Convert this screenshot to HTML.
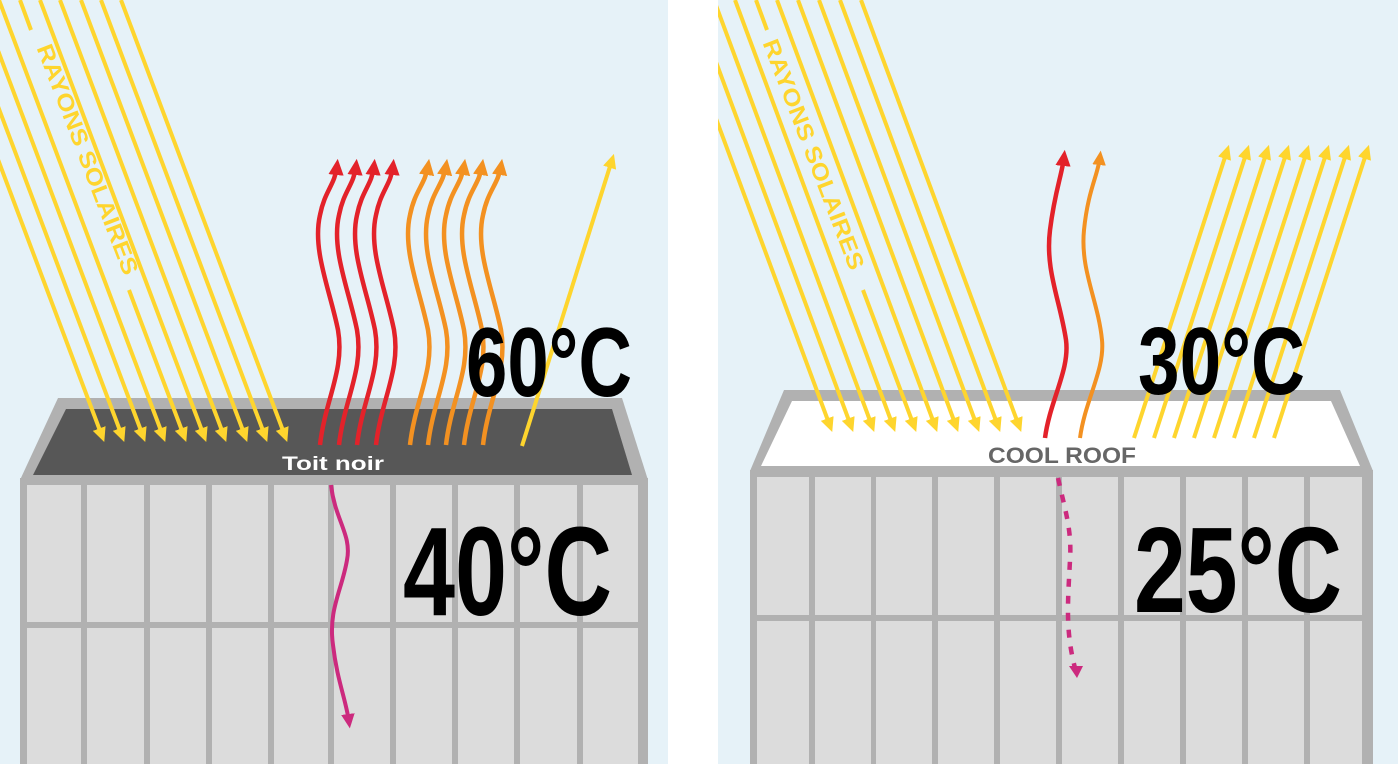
<!DOCTYPE html>
<html><head><meta charset="utf-8"><style>
html,body{margin:0;padding:0;background:#fff;}
svg{display:block;}
text{font-family:"Liberation Sans Narrow","Liberation Sans",sans-serif;font-weight:bold;}
</style></head><body>
<svg width="1398" height="764" viewBox="0 0 1398 764" xmlns="http://www.w3.org/2000/svg">
<defs>
<marker id="ay" markerWidth="4" markerHeight="4" refX="2" refY="2" orient="auto" markerUnits="strokeWidth"><path d="M0,0.3 L3.6,2 L0,3.7 Z" fill="#fed52e"/></marker>
<marker id="ar" markerWidth="4" markerHeight="4" refX="2" refY="2" orient="auto" markerUnits="strokeWidth"><path d="M0,0.3 L3.6,2 L0,3.7 Z" fill="#e3222a"/></marker>
<marker id="ao" markerWidth="4" markerHeight="4" refX="2" refY="2" orient="auto" markerUnits="strokeWidth"><path d="M0,0.3 L3.6,2 L0,3.7 Z" fill="#f39121"/></marker>
<marker id="ap" markerWidth="4" markerHeight="4" refX="2" refY="2" orient="auto" markerUnits="strokeWidth"><path d="M0,0.3 L3.6,2 L0,3.7 Z" fill="#cc2a7e"/></marker>
<clipPath id="cl"><rect x="0" y="0" width="668" height="764"/></clipPath>
<clipPath id="cr"><rect x="718" y="0" width="680" height="764"/></clipPath>
</defs>
<rect x="0" y="0" width="668" height="764" fill="#e6f2f8"/>
<rect x="718" y="0" width="680" height="764" fill="#e6f2f8"/>

<!-- LEFT BUILDING -->
<rect x="20" y="478" width="628" height="290" fill="#b1b1b1"/>
<g fill="#dcdcdc">
<rect x="27" y="485" width="54" height="137"/><rect x="87" y="485" width="57" height="137"/><rect x="150" y="485" width="56" height="137"/><rect x="212" y="485" width="56" height="137"/><rect x="274" y="485" width="54" height="137"/><rect x="334" y="485" width="56" height="137"/><rect x="396" y="485" width="56" height="137"/><rect x="458" y="485" width="56" height="137"/><rect x="520" y="485" width="57" height="137"/><rect x="583" y="485" width="55" height="137"/>
<rect x="27" y="628" width="54" height="140"/><rect x="87" y="628" width="57" height="140"/><rect x="150" y="628" width="56" height="140"/><rect x="212" y="628" width="56" height="140"/><rect x="274" y="628" width="54" height="140"/><rect x="334" y="628" width="56" height="140"/><rect x="396" y="628" width="56" height="140"/><rect x="458" y="628" width="56" height="140"/><rect x="520" y="628" width="57" height="140"/><rect x="583" y="628" width="55" height="140"/>
</g>
<polygon points="58,398 622,398 648,480 20,480" fill="#b1b1b1"/>
<polygon points="66,409 612,409 632,475 33,475" fill="#575757"/>

<g clip-path="url(#cl)">
<g stroke="#fed52e" stroke-width="4" fill="none" marker-end="url(#ay)">
<line x1="-62" y1="0" x2="102" y2="436"/>
<line x1="-42" y1="0" x2="122" y2="436"/>
<line x1="-21" y1="0" x2="143" y2="436"/>
<line x1="-1" y1="0" x2="163" y2="436"/>
<path d="M20,0 L31,30 M129,290 L184,436"/>
<line x1="40" y1="0" x2="204" y2="436"/>
<line x1="60" y1="0" x2="224" y2="436"/>
<line x1="81" y1="0" x2="245" y2="436"/>
<line x1="101" y1="0" x2="265" y2="436"/>
<line x1="121" y1="0" x2="285" y2="436"/>
</g>
</g>
<text transform="translate(86,160) rotate(69)" font-size="23" fill="#fed52e" text-anchor="middle" dominant-baseline="middle" textLength="245" lengthAdjust="spacingAndGlyphs">RAYONS SOLAIRES</text>

<g stroke="#e3222a" stroke-width="4.5" fill="none" marker-end="url(#ar)">
<path d="M320,445 C325,400 345,370 338,330 C330,290 312,250 320,215 C325,190 335,185 337,166"/>
<path d="M339,445 C344,400 364,370 357,330 C349,290 331,250 339,215 C344,190 354,185 356,166"/>
<path d="M357,445 C362,400 382,370 375,330 C367,290 349,250 357,215 C362,190 372,185 374,166"/>
<path d="M376,445 C381,400 401,370 394,330 C386,290 368,250 376,215 C381,190 391,185 393,166"/>
</g>
<g stroke="#f39121" stroke-width="4.5" fill="none" marker-end="url(#ao)">
<path d="M410,445 C415,400 435,370 428,330 C420,290 402,250 410,215 C415,190 425,185 428,166"/>
<path d="M428,445 C433,400 453,370 446,330 C438,290 420,250 428,215 C433,190 443,185 446,166"/>
<path d="M446,445 C451,400 471,370 464,330 C456,290 438,250 446,215 C451,190 461,185 464,166"/>
<path d="M464,445 C469,400 489,370 482,330 C474,290 456,250 464,215 C469,190 479,185 482,166"/>
<path d="M483,445 C488,400 508,370 501,330 C493,290 475,250 483,215 C488,190 498,185 501,166"/>
</g>
<line x1="522" y1="446" x2="612" y2="160" stroke="#fed52e" stroke-width="4" marker-end="url(#ay)"/>
<text x="282" y="470" font-size="19" fill="#fff" textLength="102" lengthAdjust="spacingAndGlyphs" style="font-family:'Liberation Sans',sans-serif">Toit noir</text>
<path d="M331,485 C335,520 352,535 347,560 C342,590 328,610 333,645 C337,680 346,700 349,722" stroke="#cc2a7e" stroke-width="4" fill="none" marker-end="url(#ap)"/>
<text x="466" y="396" font-size="98" fill="#000" textLength="166" lengthAdjust="spacingAndGlyphs">60°C</text>
<text x="403" y="615" font-size="126" fill="#000" textLength="209" lengthAdjust="spacingAndGlyphs">40°C</text>

<!-- RIGHT BUILDING -->
<rect x="750" y="470" width="623" height="298" fill="#b1b1b1"/>
<g fill="#dcdcdc">
<rect x="757" y="477" width="52" height="138"/><rect x="815" y="477" width="56" height="138"/><rect x="876" y="477" width="56" height="138"/><rect x="938" y="477" width="56" height="138"/><rect x="1000" y="477" width="56" height="138"/><rect x="1062" y="477" width="56" height="138"/><rect x="1124" y="477" width="56" height="138"/><rect x="1186" y="477" width="56" height="138"/><rect x="1248" y="477" width="56" height="138"/><rect x="1310" y="477" width="52" height="138"/>
<rect x="757" y="621" width="52" height="147"/><rect x="815" y="621" width="56" height="147"/><rect x="876" y="621" width="56" height="147"/><rect x="938" y="621" width="56" height="147"/><rect x="1000" y="621" width="56" height="147"/><rect x="1062" y="621" width="56" height="147"/><rect x="1124" y="621" width="56" height="147"/><rect x="1186" y="621" width="56" height="147"/><rect x="1248" y="621" width="56" height="147"/><rect x="1310" y="621" width="52" height="147"/>
</g>
<polygon points="784,390 1340,390 1373,471 750,471" fill="#b1b1b1"/>
<polygon points="792,401 1331,401 1360,466 761,466" fill="#ffffff"/>

<g clip-path="url(#cr)">
<g stroke="#fed52e" stroke-width="4" fill="none" marker-end="url(#ay)">
<line x1="672" y1="0" x2="830" y2="426"/>
<line x1="693" y1="0" x2="851" y2="426"/>
<line x1="714" y1="0" x2="872" y2="426"/>
<line x1="735" y1="0" x2="893" y2="426"/>
<path d="M756,0 L767,30 M863,290 L914,426"/>
<line x1="777" y1="0" x2="935" y2="426"/>
<line x1="798" y1="0" x2="956" y2="426"/>
<line x1="819" y1="0" x2="977" y2="426"/>
<line x1="840" y1="0" x2="998" y2="426"/>
<line x1="861" y1="0" x2="1019" y2="426"/>
</g>
</g>
<text transform="translate(812,155) rotate(69)" font-size="23" fill="#fed52e" text-anchor="middle" dominant-baseline="middle" textLength="245" lengthAdjust="spacingAndGlyphs">RAYONS SOLAIRES</text>

<path d="M1045,438 C1050,400 1070,370 1066,340 C1060,300 1045,270 1050,230 C1055,190 1062,175 1064,157" stroke="#e3222a" stroke-width="4.5" fill="none" marker-end="url(#ar)"/>
<path d="M1080,438 C1085,400 1105,370 1102,340 C1098,300 1080,270 1084,230 C1088,190 1098,175 1100,157" stroke="#f39121" stroke-width="4" fill="none" marker-end="url(#ao)"/>
<g stroke="#fed52e" stroke-width="4" fill="none" marker-end="url(#ay)">
<line x1="1134" y1="438" x2="1227" y2="151"/>
<line x1="1154" y1="438" x2="1247" y2="151"/>
<line x1="1174" y1="438" x2="1267" y2="151"/>
<line x1="1194" y1="438" x2="1287" y2="151"/>
<line x1="1214" y1="438" x2="1307" y2="151"/>
<line x1="1234" y1="438" x2="1327" y2="151"/>
<line x1="1254" y1="438" x2="1347" y2="151"/>
<line x1="1274" y1="438" x2="1367" y2="151"/>
</g>
<text x="988" y="463" font-size="22" fill="#666" textLength="148" lengthAdjust="spacingAndGlyphs">COOL ROOF</text>
<path d="M1058,478 C1065,510 1072,530 1070,560 C1068,600 1065,630 1075,668" stroke="#cc2a7e" stroke-width="4.5" stroke-dasharray="8 9" fill="none"/>
<polygon points="1069,666 1083,666 1077,678" fill="#cc2a7e"/>
<text x="1138" y="394" font-size="96" fill="#000" textLength="167" lengthAdjust="spacingAndGlyphs">30°C</text>
<text x="1134" y="612" font-size="122" fill="#000" textLength="208" lengthAdjust="spacingAndGlyphs">25°C</text>
</svg>
</body></html>
